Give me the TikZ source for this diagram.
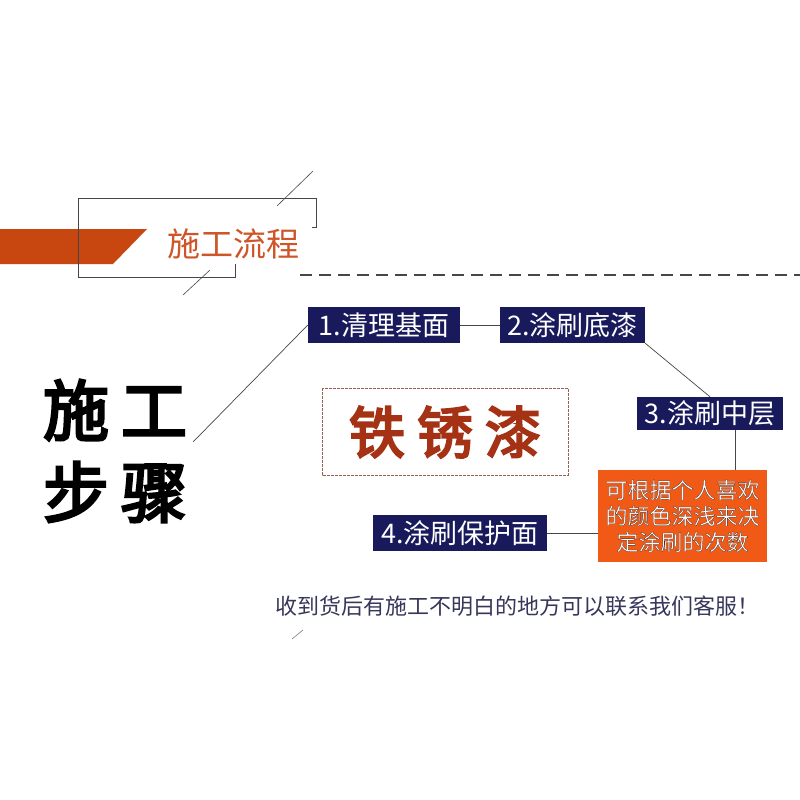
\documentclass[tikz,border=0pt]{standalone}
\usepackage{fontspec}
\newfontfamily\cjk{Noto Sans CJK SC}
\newfontfamily\cjkheavy[FakeBold=4]{Noto Sans CJK SC}
\newfontfamily\cjkoutline[FakeBold=1.2]{Noto Sans CJK SC}
\usetikzlibrary{positioning}

\definecolor{navy}{RGB}{24,26,92}
\definecolor{rust}{RGB}{200,70,15}
\definecolor{rusttext}{RGB}{205,85,40}
\definecolor{notebg}{RGB}{240,90,22}
\definecolor{framebrown}{RGB}{150,95,80}
\definecolor{titlered}{RGB}{165,50,20}
\definecolor{linegray}{RGB}{70,70,70}
\definecolor{hintgray}{RGB}{55,55,90}

\newcommand{\rim}{\special{pdf:code 0.3 0.15 0.1 RG}}

\tikzset{
  stepbox/.style={fill=navy,text=white,inner sep=0pt,font=\cjk\fontsize{27}{30}\selectfont},
  link/.style={draw=linegray,line width=0.7pt},
}

\begin{document}
\begin{tikzpicture}[x=1pt,y=-1pt]
\useasboundingbox[fill=white] (0,0) rectangle (800,800);
% header band
\fill[rust] (0,229)--(147,229)--(113,264)--(0,264)--cycle;
\draw[linegray,line width=0.8pt] (312,227)--(316,227)--(316,198)--(78,198)--(78,277)--(235,277)--(235,264);
\draw[linegray,line width=0.6pt] (277,206)--(313,171);
\draw[linegray,line width=0.6pt] (183,295)--(210,270);
\node[text=rusttext,font=\cjk\fontsize{33}{36}\selectfont] (head) at (233,244) {施工流程};
\draw[linegray,line width=1.2pt,dash pattern=on 12pt off 7pt] (300,275)--(800,275);
% big title
\node[font=\cjkheavy\fontsize{66}{82}\selectfont,align=left] (big) at (115,451) {施\hspace{12pt}工\\步\hspace{12pt}骤};
% product name
\draw[framebrown,line width=0.7pt,dash pattern=on 3pt off 1pt] (322,388) rectangle (568,475);
\node[text=titlered,font=\cjkheavy\fontsize{56}{60}\selectfont] (name) at (445,432) {铁\hspace{12pt}锈\hspace{12pt}漆};
% steps
\node[stepbox,minimum width=152pt,minimum height=36pt] (clean) at (384,325) {1.清理基面};
\node[stepbox,minimum width=145pt,minimum height=36pt] (prime) at (572.5,325) {2.涂刷底漆};
\node[stepbox,minimum width=146pt,minimum height=33pt] (middle) at (710,413.5) {3.涂刷中层};
\node[stepbox,minimum width=174pt,minimum height=36pt] (guard) at (460,533) {4.涂刷保护面};
\node[fill=notebg,text=white,minimum width=169pt,minimum height=92pt,inner sep=0pt,align=center,
  font=\cjkoutline\fontsize{22}{26}\selectfont] (note) at (682.5,516)
  {\rim 可根据个人喜欢\\\rim 的颜色深浅来决\\\rim 定涂刷的次数};
% connectors
\coordinate (slash) at (193,442);
\draw[link] (slash) -- (clean.west);
\draw[link] (clean) -- (prime);
\draw[link] (prime.south east) -- (middle.north);
\draw[link] ([xshift=25pt]middle.south) -- ([xshift=25pt]middle.south |- note.north);
\draw[link] (guard.east) -- (guard.east -| note.west);
% footer
\node[text=hintgray,font=\cjk\fontsize{22}{24}\selectfont] (hint) at (517,606) {收到货后有施工不明白的地方可以联系我们客服！};
\draw[linegray!70,line width=0.6pt] (292,639)--(303,630);
\end{tikzpicture}
\end{document}
